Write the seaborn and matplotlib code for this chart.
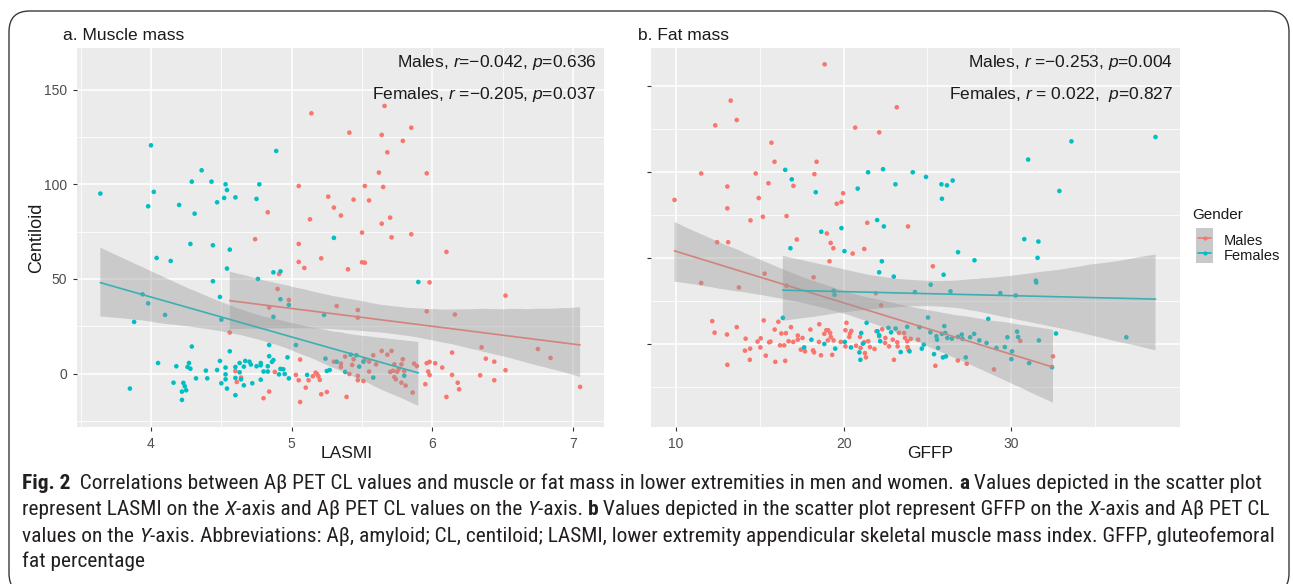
import numpy as np
import pandas as pd
import matplotlib
matplotlib.use("Agg")
import matplotlib.pyplot as plt
import seaborn as sns
from matplotlib import font_manager as fm
from matplotlib.patches import Rectangle, FancyBboxPatch
from matplotlib.lines import Line2D

# ---------------- data ----------------
a_female_x = [3.64, 4.00, 3.98, 4.02, 4.20, 4.29, 4.31, 4.36, 4.43, 4.47, 4.52, 4.53, 4.54, 4.60, 4.75, 4.77,
              4.89, 4.04, 4.14, 4.28, 4.44, 4.56, 4.54, 4.44, 4.49, 4.76, 4.87, 4.92, 4.92, 4.98, 5.30, 5.90,
              3.94, 3.98, 3.88, 4.10, 4.50, 4.87, 5.23, 3.85,
              4.05, 4.16, 4.18, 4.23, 4.24, 4.25, 4.22, 4.22, 4.26, 4.27, 4.28, 4.29, 4.32, 4.39, 4.40, 4.47,
              4.49, 4.50, 4.53, 4.53, 4.53, 4.54, 4.56, 4.60, 4.60, 4.60, 4.63, 4.63, 4.64, 4.66, 4.66, 4.67,
              4.70, 4.71, 4.72, 4.75, 4.78, 4.78, 4.78, 4.80, 4.83, 4.83, 4.84, 4.84, 4.86, 4.87, 4.91, 4.92,
              4.94, 4.95, 4.98, 4.97, 5.03, 5.11, 5.24, 5.25, 5.27, 5.32, 5.38, 5.42, 5.46, 5.48, 5.51, 5.58,
              5.80]
a_female_y = [95.1, 120.6, 88.4, 96.0, 89.1, 101.4, 84.5, 107.4, 101.4, 90.5, 92.8, 100.0, 97.0, 93.1, 92.3, 100.0,
              117.6, 61.1, 59.5, 68.5, 67.8, 65.5, 55.5, 48.8, 40.5, 50.0, 53.5, 54.0, 39.3, 36.3, 71.7, 48.4,
              41.9, 37.1, 27.3, 31.0, 28.5, 30.0, 31.0, -7.9,
              5.6, -4.8, 3.9, -4.9, -6.7, -8.8, -9.5, -13.9, 3.5, 5.6, 2.6, 14.3, -2.5, 1.6, -2.5, 1.9,
              6.7, -5.1, 3.2, -0.4, -3.0, -7.9, 11.8, -2.3, -11.4, 3.5, 0.7, 5.6, -3.0, -6.2, 3.7, 6.7,
              6.3, 4.8, -5.1, 3.9, 4.4, 5.6, -3.2, 1.1, 1.1, 3.9, 15.1, 9.2, 6.2, 7.2, -0.4, 2.5,
              2.3, -0.2, -2.5, 8.6, 15.1, -0.7, 7.9, 1.4, 1.9, 6.3, 0.9, 10.0, 9.7, 3.7, 6.3, -2.1,
              -1.1]

a_male_x = [5.66, 5.14, 5.85, 5.41, 5.64, 5.79, 5.68, 5.62, 5.96, 5.05, 5.52, 5.65, 5.26, 5.44, 5.55, 5.30,
            5.35, 4.83, 5.13, 5.70, 5.64, 5.50, 5.85, 5.71, 4.74, 5.05, 5.21, 5.05, 5.09, 5.40, 5.50, 5.52,
            6.10, 5.98, 6.52, 4.91, 4.90, 4.98, 4.84, 5.32, 5.47, 5.47, 5.96, 6.16,
            6.35, 6.75, 6.84, 6.38, 6.44, 6.52, 6.34, 6.44, 7.05,
            4.56, 4.60, 4.61, 4.64, 4.80, 4.84, 4.88, 5.03, 5.06, 5.05, 5.06, 5.10, 5.12, 5.15, 5.17, 5.18,
            5.20, 5.19, 5.21, 5.25, 5.30, 5.35, 5.35, 5.38, 5.39, 5.41, 5.43, 5.44, 5.47, 5.47, 5.52, 5.51,
            5.55, 5.55, 5.58, 5.60, 5.64, 5.68, 5.70, 5.71, 5.72, 5.73, 5.73, 5.74, 5.75, 5.76, 5.78, 5.78,
            5.79, 5.80, 5.81, 5.86, 5.87, 5.89, 5.95, 5.96, 5.97, 5.98, 5.98, 6.02, 6.07, 6.10, 6.14, 6.14,
            6.18, 6.19]
a_male_y = [141.4, 137.5, 129.9, 127.3, 126.1, 122.9, 116.9, 106.2, 105.8, 99.1, 99.1, 98.6, 93.5, 91.9, 91.5, 87.7,
            83.5, 85.2, 81.5, 82.4, 79.2, 74.5, 73.6, 72.0, 71.0, 68.5, 60.9, 59.0, 55.8, 55.1, 58.8, 58.6,
            64.3, 48.2, 41.2, 52.6, 44.7, 38.9, 34.9, 35.7, 33.6, 29.6, 32.9, 31.2,
            13.9, 13.0, 8.3, 7.9, 6.3, 1.8, -0.9, -3.5, -7.0,
            21.7, 1.4, -4.4, -2.1, -13.0, -9.5, 0.9, -0.7, 7.4, -3.5, -15.0, -7.4, -3.5, -1.4, 0.5, -0.2,
            -3.3, -1.4, -10.9, -9.7, 6.3, 5.3, 3.5, 9.0, -12.3, -0.2, 4.6, 7.6, -1.2, -3.5, 7.6, -3.9,
            1.1, 6.3, 9.7, 4.9, 12.0, 10.0, 0.9, 12.0, 1.5, 4.9, -1.8, -3.0, 1.0, 2.3, -4.8, 4.9,
            7.6, 1.4, -6.3, -10.0, 5.3, 4.0, -5.6, 5.5, 1.1, -0.7, 6.2, 5.5, 3.2, -12.3, -0.7, 11.1,
            -4.8, -8.3]

b_male_x = [18.87, 13.27, 13.63, 12.35, 23.17, 20.69, 22.12, 15.70, 15.88, 18.39, 11.51, 14.76, 18.26, 13.07,
            15.52, 17.01, 14.94, 19.97, 19.87, 19.59, 9.92, 13.07, 15.19, 16.60, 14.45, 21.41, 23.84, 19.00,
            17.21, 12.46, 13.12, 19.23, 19.39, 21.23, 20.54, 19.16, 25.32, 15.29, 18.21, 11.51, 13.76, 16.60,
            21.92, 22.24,
            12.17, 12.31, 13.05, 13.63, 13.07, 14.16, 14.12, 14.43, 14.41, 14.87, 15.06, 15.04, 15.24, 15.36,
            15.56, 15.64, 15.89, 15.93, 16.11, 16.29, 16.21, 16.56, 16.52, 16.46, 16.86, 16.72, 17.00, 17.27,
            17.27, 17.55, 17.45, 17.70, 18.02, 18.18, 18.24, 18.55, 18.53, 18.65, 18.85, 18.97, 19.08, 19.20,
            19.06, 19.24, 19.40, 19.32, 19.83, 20.17, 20.11, 20.38, 20.46, 20.34, 20.11, 20.74, 20.98, 21.01,
            21.23, 21.27, 21.47, 21.33, 21.57, 21.84, 21.96, 22.12, 22.49, 22.47, 22.71, 22.93, 23.00, 23.20,
            23.22, 23.60, 23.66, 23.79, 23.81, 23.87, 24.44, 25.47, 26.81, 27.34, 28.96, 30.53, 32.48, 22.30,
            23.30, 24.00]
b_male_y = [162.7, 141.6, 130.3, 127.2, 137.7, 125.9, 123.1, 117.1, 106.0, 106.0, 99.2, 99.2, 98.8, 91.6,
            93.5, 92.0, 84.9, 87.7, 82.6, 81.6, 83.8, 78.9, 74.0, 74.4, 71.9, 70.5, 68.4, 64.3,
            60.8, 59.2, 59.2, 58.8, 55.7, 55.3, 52.6, 48.1, 45.2, 40.9, 38.8, 35.5, 32.9, 33.9,
            29.5, 22.5,
            13.3, 6.6, 5.5, 9.8, -12.1, 3.1, -3.9, -2.7, -9.2, 1.4, 3.3, -2.0, 13.7, -6.8,
            1.0, 1.4, 8.4, -10.4, 12.9, 6.1, -0.8, 6.3, -9.8, -0.8, 9.8, 1.6, 1.2, 4.9,
            2.5, 3.5, -3.3, -4.3, 8.4, -3.7, -4.9, 11.5, 1.2, -6.6, 5.9, 8.0, 8.0, 6.4,
            2.1, 4.1, 2.1, -6.3, 1.2, 12.3, 8.0, 6.1, 7.6, 4.1, -1.4, -1.0, 4.1, -2.3,
            1.0, -5.3, 1.6, -7.8, -1.8, -2.9, 7.4, 4.5, 3.5, 0.6, -1.4, 2.5, -9.2, 1.0,
            -1.4, 6.4, 3.5, 1.6, -1.8, -3.5, 2.5, -12.7, -9.6, -11.5, -14.8, 1.8, -7.2, 8.6,
            6.5, 3.0]

b_female_x = [16.52, 16.91, 16.83, 18.34, 18.67, 19.87, 20.05, 20.84, 21.46, 22.35, 22.00, 22.40, 22.28, 22.12,
              22.99, 23.09, 24.12, 24.91, 25.83, 26.16, 26.50, 25.86, 25.96, 25.19, 26.82, 27.80, 26.37, 24.25,
              29.34, 30.26, 31.00, 33.58, 38.59, 32.86, 30.77, 31.61, 31.56, 31.46, 31.48, 36.85, 19.46, 19.40,
              16.38, 17.65, 18.08, 18.85, 19.50, 20.07, 20.44, 20.94, 21.00, 21.15, 21.05, 21.37, 22.02, 22.12,
              22.18, 22.67, 22.83, 23.10, 23.40, 23.79, 23.93, 24.52, 24.66, 24.78, 25.03, 25.17, 25.39, 25.53,
              25.57, 25.63, 25.86, 26.00, 26.06, 25.92, 26.10, 26.18, 26.45, 26.81, 27.04, 27.08, 27.28, 27.54,
              27.78, 28.09, 28.52, 28.62, 29.11, 29.61, 29.76, 30.04, 30.00, 30.34, 30.40, 31.06, 31.64, 32.42,
              32.66]
b_female_y = [101.3, 95.8, 55.7, 88.3, 65.3, 67.4, 54.0, 90.4, 99.9, 101.7, 72.1, 68.4, 48.1, 41.7,
              39.2, 92.9, 99.9, 97.2, 92.9, 92.3, 95.1, 84.5, 40.3, 34.5, 53.4, 48.7, 30.6, 30.2,
              29.6, 28.2, 107.3, 117.9, 120.4, 89.0, 61.0, 59.6, 50.1, 36.8, 35.8, 3.9, 28.6, 31.0,
              15.2, -2.0, 2.5, 0.0, -2.7, 1.2, -2.0, -4.9, -9.2, 0.2, 6.4, 12.3, 7.4, 5.1,
              1.6, 9.4, 6.8, 9.0, -4.7, 10.0, -4.3, 9.8, -2.7, -0.4, 15.4, 6.8, -5.9, 4.5,
              2.5, -2.3, 5.9, 10.4, 6.4, -7.8, -7.2, 3.5, 3.1, 4.1, 5.5, 3.1, -7.8, 3.9,
              5.9, 2.1, 0.6, 14.6, -2.3, -1.8, 3.9, -4.3, -8.8, 7.2, 4.1, -11.1, 2.1, -13.5,
              6.1]

genders = ["Males", "Females"]
panel_titles = ["a. Muscle mass", "b. Fat mass"]
x_labels = ["LASMI", "GFFP"]
y_label = "Centiloid"
legend_title = "Gender"
a_stats = ["Males, $r$=\u22120.042, $p$=0.636", "Females, $r$ =\u22120.205, $p$=0.037"]
b_stats = ["Males, $r$ =\u22120.253, $p$=0.004", "Females, $r$ = 0.022,  $p$=0.827"]
a_xticks = [4, 5, 6, 7]
b_xticks = [10, 20, 30]
y_ticks = [0, 50, 100, 150]

# ---------------- styling ----------------
sns.set_theme(style="white")
avail = {f.name for f in fm.fontManager.ttflist}
plot_font = "Liberation Sans" if "Liberation Sans" in avail else "DejaVu Sans"
cap_font = next((n for n in ["Liberation Sans Narrow", "Roboto Condensed", "Open Sans Condensed",
                             "Noto Sans Condensed", "Liberation Sans"] if n in avail), "DejaVu Sans")
plt.rcParams["font.family"] = [plot_font, "DejaVu Sans"]
plt.rcParams["mathtext.fontset"] = "custom"
plt.rcParams["mathtext.rm"] = plot_font
plt.rcParams["mathtext.it"] = plot_font + ":italic"

RED = "#F8766D"
CYAN = "#00BFC4"
palette = {"Males": RED, "Females": CYAN}
BAND = "#999999"
TXT = "#1A1A1A"

W, H = 1293, 584
fig = plt.figure(figsize=(W / 100, H / 100), dpi=100)
fig.patch.set_facecolor("white")


def px_axes(l, t, r, b):
    return fig.add_axes([l / W, 1 - b / H, (r - l) / W, (b - t) / H])


def make_df(mx, my, fx, fy):
    return pd.DataFrame({
        "x": list(mx) + list(fx),
        "y": list(my) + list(fy),
        "Gender": ["Males"] * len(mx) + ["Females"] * len(fx),
    })


df_a = make_df(a_male_x, a_male_y, a_female_x, a_female_y)
df_b = make_df(b_male_x, b_male_y, b_female_x, b_female_y)

ax_a = px_axes(77, 48, 604, 427)
ax_b = px_axes(651, 48, 1180, 427)


def draw_panel(ax, df, xlim, ylim, xticks, xminor, stats, show_ylabels):
    ax.set_facecolor("#EBEBEB")
    sns.scatterplot(data=df, x="x", y="y", hue="Gender", palette=palette, hue_order=genders,
                    s=11, linewidth=0, legend=False, ax=ax, zorder=2)
    for g in genders:
        sub = df[df["Gender"] == g]
        n_before = len(ax.collections)
        sns.regplot(data=sub, x="x", y="y", scatter=False, ci=95, n_boot=2000, seed=3,
                    color=palette[g], line_kws=dict(lw=1.2, zorder=3), ax=ax, truncate=True)
        for coll in ax.collections[n_before:]:
            coll.set_facecolor(BAND)
            coll.set_alpha(0.4)
            coll.set_edgecolor("none")
            coll.set_zorder(3)
    ax.set_xlim(*xlim)
    ax.set_ylim(*ylim)
    ax.set_xticks(xticks)
    ax.set_xticks(xminor, minor=True)
    ax.set_yticks(y_ticks)
    ax.set_yticks([-25, 25, 75, 125], minor=True)
    ax.grid(True, which="major", color="white", lw=1.1, zorder=0)
    ax.grid(True, which="minor", color="white", lw=0.55, zorder=0)
    ax.set_axisbelow(True)
    for s in ax.spines.values():
        s.set_visible(False)
    ax.tick_params(axis="both", which="major", length=3, width=0.8, color="#333333",
                   labelsize=10, labelcolor="#4D4D4D", pad=4, bottom=True, left=True)
    ax.tick_params(axis="both", which="minor", length=0)
    if not show_ylabels:
        ax.set_yticklabels([])
    ax.text(0.987, 0.962, stats[0], transform=ax.transAxes, ha="right", va="center",
            fontsize=12.5, color=TXT, zorder=5)
    ax.text(0.987, 0.877, stats[1], transform=ax.transAxes, ha="right", va="center",
            fontsize=12.5, color=TXT, zorder=5)


draw_panel(ax_a, df_a, (3.474, 7.22), (-28.2, 172.0), a_xticks, [3.5, 4.5, 5.5, 6.5], a_stats, True)
draw_panel(ax_b, df_b, (8.52, 40.05), (-48.3, 172.2), b_xticks, [15, 25, 35], b_stats, False)

ax_a.set_xlabel(x_labels[0], fontsize=12.5, color=TXT, labelpad=0)
ax_b.set_xlabel(x_labels[1], fontsize=12.5, color=TXT, labelpad=0)
ax_a.xaxis.set_label_coords((347 - 77) / 527, -19 / 379)
ax_b.xaxis.set_label_coords((930 - 651) / 529, -19 / 379)
ax_a.set_ylabel(y_label, fontsize=13, color=TXT, labelpad=0)
ax_a.yaxis.set_label_coords(-(77 - 45) / 527, 0.5)
ax_b.set_ylabel("")

fig.text(63 / W, 1 - 35 / H, panel_titles[0], fontsize=12.5, ha="left", va="center", color=TXT)
fig.text(638 / W, 1 - 35 / H, panel_titles[1], fontsize=12.5, ha="left", va="center", color=TXT)

# legend (drawn by hand in figure pixels)
fig.text(1192 / W, 1 - 215 / H, legend_title, fontsize=11, ha="left", va="center", color=TXT)
fig.patches.append(Rectangle((1196 / W, 1 - 263 / H), 17 / W, 35 / H, transform=fig.transFigure,
                             facecolor="#C9C9C9", edgecolor="none"))
for g, ly, ty in zip(genders, [238, 253], [241, 256]):
    fig.add_artist(Line2D([1198 / W, 1211 / W], [1 - ly / H, 1 - ly / H], transform=fig.transFigure,
                          color=palette[g], lw=1.2))
    fig.add_artist(Line2D([1204.5 / W], [1 - ly / H], transform=fig.transFigure, color=palette[g],
                          marker="o", markersize=3, markeredgewidth=0, lw=0))
    fig.text(1224 / W, 1 - ty / H, g, fontsize=10.5, ha="left", va="center", color=TXT)

# caption
lines = [
    [("Fig. 2", "bold"), ("  Correlations between A\u03b2 PET CL values and muscle or fat mass in lower extremities in men and women. ", "normal"),
     ("a", "bold"), (" Values depicted in the scatter plot", "normal")],
    [("represent LASMI on the ", "normal"), ("X", "italic"), ("-axis and A\u03b2 PET CL values on the ", "normal"),
     ("Y", "italic"), ("-axis. ", "normal"), ("b", "bold"),
     (" Values depicted in the scatter plot represent GFFP on the ", "normal"), ("X", "italic"),
     ("-axis and A\u03b2 PET CL", "normal")],
    [("values on the ", "normal"), ("Y", "italic"),
     ("-axis. Abbreviations: A\u03b2, amyloid; CL, centiloid; LASMI, lower extremity appendicular skeletal muscle mass index. GFFP, gluteofemoral", "normal")],
    [("fat percentage", "normal")],
]
renderer = fig.canvas.get_renderer()


def seg_kwargs(style, size):
    kw = dict(fontsize=size, family=[cap_font, "DejaVu Sans"], color="#231F20")
    if style == "bold":
        kw["fontweight"] = "bold"
    elif style == "italic":
        kw["fontstyle"] = "italic"
    return kw


def line_width(segs, size):
    total = 0
    for txt, st in segs:
        t = fig.text(0, 0, txt, **seg_kwargs(st, size))
        total += t.get_window_extent(renderer).width
        t.remove()
    return total


base_size = 12.0
w1 = line_width(lines[0], base_size)
cap_size = base_size * (1240 / w1)
baselines = [489, 515, 542, 567]
for segs, yb in zip(lines, baselines):
    x = 22.0
    for txt, st in segs:
        t = fig.text(x / W, 1 - yb / H, txt, ha="left", va="baseline", **seg_kwargs(st, cap_size))
        x += t.get_window_extent(renderer).width

# rounded border
border = FancyBboxPatch((9 / W, -10 / H), (1289 - 9) / W, (H - 11 + 10) / H,
                        boxstyle="round,pad=0,rounding_size=0.016", transform=fig.transFigure,
                        facecolor="none", edgecolor="#3A3A3A", lw=1.0, mutation_aspect=W / H)
fig.patches.append(border)

fig.savefig("out.png", dpi=100)
